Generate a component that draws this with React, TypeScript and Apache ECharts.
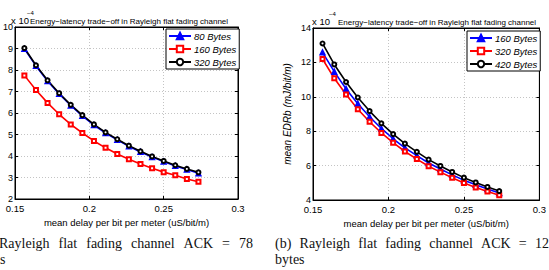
import React, { useEffect, useRef } from "react";
import * as echarts from "echarts";

// ---- data ----
const delayX = [0.1563, 0.1641, 0.1719, 0.1797, 0.1875, 0.1953, 0.2031, 0.2109, 0.2188, 0.2266, 0.2344, 0.2422, 0.25, 0.2578, 0.2656, 0.2734];

// (a) ACK = 78 bytes
const aNames = ["80 Bytes", "160 Bytes", "320 Bytes"];
const a80 = [8.99, 8.19, 7.49, 6.89, 6.35, 5.87, 5.44, 5.07, 4.75, 4.45, 4.19, 3.95, 3.74, 3.54, 3.37, 3.2];
const a160 = [7.75, 7.07, 6.47, 5.94, 5.47, 5.07, 4.7, 4.38, 4.09, 3.85, 3.63, 3.43, 3.25, 3.1, 2.93, 2.8];
const a320 = [9.02, 8.22, 7.52, 6.92, 6.38, 5.9, 5.47, 5.1, 4.78, 4.48, 4.22, 3.98, 3.77, 3.57, 3.4, 3.24];

// (b) ACK = 12 bytes
const bNames = ["160 Bytes", "320 Bytes", "420 Bytes"];
const b160 = [12.58, 11.46, 10.46, 9.6, 8.84, 8.16, 7.56, 7.03, 6.58, 6.15, 5.8, 5.46, 5.15, 4.88, 4.64, 4.41];
const b320 = [12.2, 11.08, 10.13, 9.28, 8.55, 7.9, 7.33, 6.82, 6.38, 5.96, 5.62, 5.29, 4.99, 4.73, 4.49, 4.27];
const b420 = [13.1, 11.88, 10.86, 9.96, 9.17, 8.46, 7.83, 7.28, 6.8, 6.35, 5.98, 5.63, 5.3, 5.02, 4.76, 4.52];

const xTicks = { min: 0.15, max: 0.3, interval: 0.05 };
const aYTicks = { min: 2, max: 10, interval: 1 };
const bYTicks = { min: 4, max: 14, interval: 2 };

const titleText = "Energy\u2212latency trade\u2212off in Rayleigh flat fading channel";
const xName = "mean delay per bit per meter (uS/bit/m)";
const bYName = "mean EDRb (mJ/bit/m)";
const captionA1 = ["Rayleigh", "flat", "fading", "channel", "ACK", "=", "78"];
const captionA2 = "s";
const captionB1 = ["(b)", "Rayleigh", "flat", "fading", "channel", "ACK", "=", "12"];
const captionB2 = "bytes";

const SANS = "Liberation Sans, Arial, sans-serif";
const SERIF = "Liberation Serif, Times New Roman, serif";
const B_SUFFIX = " (b)";

function zip(xs: number[], ys: number[]) {
  return xs.map((x, i) => [x, ys[i]]);
}

export default function App() {
  const ref = useRef<HTMLDivElement>(null);
  useEffect(() => {
    if (!ref.current) return;
    const chart = echarts.init(ref.current, null, { renderer: "svg" });

    const captionFont = "14px " + SERIF;
    const cv = document.createElement("canvas").getContext("2d")!;
    cv.font = captionFont;
    const justify = (words: string[], x0: number, x1: number, y: number) => {
      const ws = words.map((w) => cv.measureText(w).width);
      const total = ws.reduce((s, v) => s + v, 0);
      const gap = (x1 - x0 - total) / (words.length - 1);
      let x = x0;
      return words.map((w, i) => {
        const el = {
          type: "text",
          x,
          y,
          style: { text: w, font: captionFont, fill: "#111", textVerticalAlign: "middle" },
        };
        x += ws[i] + gap;
        return el;
      });
    };

    const gridDefs = [
      { left: 10, top: 27, width: 228, height: 172 },
      { left: 313, top: 28, width: 227, height: 172 },
    ];

    const mkX = (g: number) => [
      {
        type: "value",
        gridIndex: g,
        ...xTicks,
        name: xName,
        nameLocation: "middle",
        nameGap: 16,
        nameTextStyle: { fontSize: 9.5, color: "#000", fontFamily: SANS },
        axisLine: { show: true, lineStyle: { color: "#000", width: 1 } },
        axisTick: { show: true, inside: true, length: 3, lineStyle: { color: "#000" } },
        axisLabel: { fontSize: 9.5, color: "#000", fontFamily: SANS, margin: 4 },
        splitLine: { show: true, lineStyle: { color: "#c4c4c4", type: [1, 2], width: 1 } },
      },
      {
        type: "value",
        gridIndex: g,
        position: "top",
        ...xTicks,
        axisLine: { show: true, lineStyle: { color: "#000", width: 1 } },
        axisTick: { show: true, inside: true, length: 3, lineStyle: { color: "#000" } },
        axisLabel: { show: false },
        splitLine: { show: false },
      },
    ];
    const mkY = (g: number, t: any, name?: string) => [
      {
        type: "value",
        gridIndex: g,
        ...t,
        name: name || "",
        nameLocation: "middle",
        nameGap: 21,
        nameTextStyle: { fontSize: 10, color: "#000", fontFamily: SANS, fontStyle: "italic" },
        axisLine: { show: true, lineStyle: { color: "#000", width: 1 } },
        axisTick: { show: true, inside: true, length: 3, lineStyle: { color: "#000" } },
        axisLabel: { fontSize: 9, color: "#000", fontFamily: SANS, margin: 2 },
        splitLine: { show: true, lineStyle: { color: "#c4c4c4", type: [1, 2], width: 1 } },
      },
      {
        type: "value",
        gridIndex: g,
        position: "right",
        ...t,
        axisLine: { show: true, lineStyle: { color: "#000", width: 1 } },
        axisTick: { show: true, inside: true, length: 3, lineStyle: { color: "#000" } },
        axisLabel: { show: false },
        splitLine: { show: false },
      },
    ];

    const styles = {
      blue: { color: "#0000ff", symbol: "triangle", symbolSize: 5 },
      red: { color: "#ff0000", symbol: "emptyRect", symbolSize: 4 },
      black: { color: "#000000", symbol: "emptyCircle", symbolSize: 4 },
    };
    const mkSeries = (name: string, ys: number[], st: any, axis: number) => ({
      type: "line",
      name,
      xAxisIndex: axis,
      yAxisIndex: axis,
      data: zip(delayX, ys),
      symbol: st.symbol,
      symbolSize: st.symbolSize,
      showAllSymbol: true,
      lineStyle: { color: st.color, width: 1.6 },
      itemStyle: { color: st.color, borderColor: st.color, borderWidth: 1.4 },
      emphasis: { disabled: true },
    });

    const legendBase = {
      orient: "vertical",
      itemWidth: 22,
      itemHeight: 8,
      itemGap: 3,
      padding: [2, 3, 2, 2],
      backgroundColor: "#fff",
      borderColor: "#000",
      borderWidth: 1,
      borderRadius: 0,
      selectedMode: false,
      textStyle: { fontStyle: "italic", fontSize: 9.5, color: "#000", fontFamily: SANS, padding: [0, 0, 0, -2] },
    };

    chart.setOption({
      animation: false,
      grid: gridDefs.map((g) => ({ ...g, show: true, borderColor: "#000", borderWidth: 1, backgroundColor: "#fff" })),
      xAxis: [...mkX(0), ...mkX(1)],
      yAxis: [...mkY(0, aYTicks), ...mkY(1, bYTicks, bYName)],
      legend: [
        { ...legendBase, data: aNames, left: 166, top: 29 },
        {
          ...legendBase,
          data: bNames.map((n) => n + B_SUFFIX),
          formatter: (n: string) => n.replace(B_SUFFIX, ""),
          left: 467,
          top: 31,
        },
      ],
      series: [
        mkSeries(aNames[0], a80, styles.blue, 0),
        mkSeries(aNames[1], a160, styles.red, 0),
        mkSeries(aNames[2], a320, styles.black, 0),
        mkSeries(bNames[0] + B_SUFFIX, b160, styles.blue, 2),
        mkSeries(bNames[1] + B_SUFFIX, b320, styles.red, 2),
        mkSeries(bNames[2] + B_SUFFIX, b420, styles.black, 2),
      ],
      graphic: [
        { type: "text", x: 11, y: 20, style: { text: "x 10", font: "9.5px " + SANS, fill: "#000", textVerticalAlign: "middle" } },
        { type: "text", x: 27, y: 13, style: { text: "\u22124", font: "6px " + SANS, fill: "#000", textVerticalAlign: "middle" } },
        { type: "text", x: 129, y: 21, style: { text: titleText, font: "8px " + SANS, fill: "#000", textAlign: "center", textVerticalAlign: "middle" } },
        { type: "text", x: 312, y: 21, style: { text: "x 10", font: "9.5px " + SANS, fill: "#000", textVerticalAlign: "middle" } },
        { type: "text", x: 329, y: 14, style: { text: "\u22124", font: "6px " + SANS, fill: "#000", textVerticalAlign: "middle" } },
        { type: "text", x: 437, y: 22, style: { text: titleText, font: "8px " + SANS, fill: "#000", textAlign: "center", textVerticalAlign: "middle" } },
        ...justify(captionA1, -1, 253, 243),
        { type: "text", x: 0, y: 259, style: { text: captionA2, font: captionFont, fill: "#111", textVerticalAlign: "middle" } },
        ...justify(captionB1, 275, 549, 243),
        { type: "text", x: 275, y: 259, style: { text: captionB2, font: captionFont, fill: "#111", textVerticalAlign: "middle" } },
      ],
    });
    return () => chart.dispose();
  }, []);
  return (
    <div
      ref={ref}
      style={{ position: "absolute", left: 0, top: 0, width: 549, height: 270, background: "#fff" }}
    />
  );
}
